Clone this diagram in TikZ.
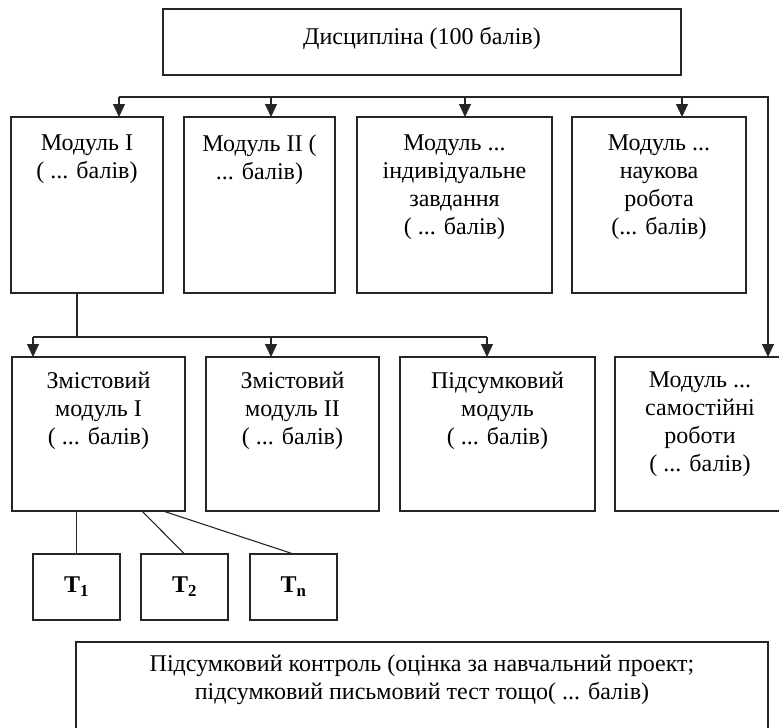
\documentclass[tikz,border=0pt]{standalone}
\usepackage{fontspec}
\setmainfont{Liberation Serif}
\usetikzlibrary{arrows.meta,positioning}

\begin{document}
\begin{tikzpicture}[
	    x=1pt, y=-1pt,
	    every node/.style={outer sep=0pt},
	    box/.style={rectangle, draw=black!85, line width=1.1pt, inner sep=0pt},
	    boxtext/.style={align=center, inner sep=0pt, font=\fontsize{24}{28}\selectfont},
	    modbox/.style={box, minimum height=176pt},
	    subbox/.style={box, minimum height=154pt},
	    testbox/.style={box, minimum width=87pt, minimum height=66pt, font=\fontsize{24}{28}\selectfont\bfseries},
	    normalline/.style={-{Triangle[length=13pt, width=12pt]}, line width=1.1pt, draw=black!85},
	    plainline/.style={line width=1.1pt, draw=black!85},
	]
	\useasboundingbox (0,0) rectangle (779,728);
	\clip (0,0) rectangle (779,728);

	\node[box, minimum width=518pt, minimum height=66pt] (disc) at (422,42) {};
	\node[boxtext, below=18pt of disc.north] (disctext) {Дисципліна (100 балів)};

	% ------------ modules

	\node[modbox, minimum width=152pt] (mod1) at (87,205) {};
	\node[modbox, minimum width=151pt, right=21pt of mod1] (mod2) {};
	\node[modbox, minimum width=195pt, right=22pt of mod2] (mod3) {};
	\node[modbox, minimum width=174pt, right=20pt of mod3] (mod4) {};

	\node[boxtext, below=18pt of mod1.north] (mod1text) {Модуль I\\( ... балів)};
	\node[boxtext, below=18pt of mod2.north] (mod2text) {Модуль II (\\... балів)};
	\node[boxtext, below=18pt of mod3.north] (mod3text) {Модуль ...\\індивідуальне\\завдання\\( ... балів)};
	\node[boxtext, below=18pt of mod4.north] (mod4text) {Модуль ...\\наукова\\робота\\(... балів)};

	% ------------ content modules

	\node[subbox, minimum width=173pt] (zm1) at (98.5,434) {};
	\node[subbox, minimum width=173pt, right=21pt of zm1] (zm2) {};
	\node[subbox, minimum width=195pt, right=21pt of zm2] (pidsm) {};
	\node[subbox, minimum width=170pt, right=20pt of pidsm] (samost) {};

	\node[boxtext, below=15pt of zm1.north] (zm1text) {Змістовий\\модуль I\\( ... балів)};
	\node[boxtext, below=15pt of zm2.north] (zm2text) {Змістовий\\модуль II\\( ... балів)};
	\node[boxtext, below=15pt of pidsm.north] (pidsmtext) {Підсумковий\\модуль\\( ... балів)};
	\node[boxtext, below=15pt of samost.north] (samosttext) {Модуль ...\\самостійні\\роботи\\( ... балів)};

	% ------------ tests

	\node[testbox] (t1) at (76.5,587) {\raisebox{4pt}{T\textsubscript{1}}};
	\node[testbox, right=21pt of t1] (t2) {\raisebox{4pt}{T\textsubscript{2}}};
	\node[testbox, right=22pt of t2] (tn) {\raisebox{4pt}{T\textsubscript{n}}};

	\node[box, minimum width=692pt, minimum height=108pt] (final) at (422,696) {};
	\node[boxtext, below=13pt of final.north] (finaltext) {Підсумковий контроль (оцінка за навчальний проект;\\підсумковий письмовий тест тощо( ... балів)};

	% ------------ connectors

	\coordinate (bus) at (0,97);
	\coordinate (bus2) at (0,337);
	\coordinate (mod1in) at ([xshift=32pt]mod1.north);
	\coordinate (mod2in) at ([xshift=11.5pt]mod2.north);
	\coordinate (mod3in) at ([xshift=10.5pt]mod3.north);
	\coordinate (mod4in) at ([xshift=23pt]mod4.north);
	\coordinate (samostin) at ([xshift=68pt]samost.north);
	\coordinate (mod1out) at ([xshift=-10pt]mod1.south);
	\coordinate (zm1in) at ([xshift=-65.5pt]zm1.north);
	\coordinate (zm2in) at ([xshift=-21.5pt]zm2.north);
	\coordinate (pidsmin) at ([xshift=-10.5pt]pidsm.north);

	\draw [normalline] (mod1in |- bus) -- (samostin |- bus) -- (samostin);
	\foreach \m in {mod1in, mod2in, mod3in, mod4in}
	    \draw [normalline] (\m |- bus) -- (\m);

	\draw [plainline] (mod1out) -- (mod1out |- bus2);
	\draw [plainline] (zm1in |- bus2) -- (pidsmin |- bus2);
	\foreach \m in {zm1in, zm2in, pidsmin}
	    \draw [normalline] (\m |- bus2) -- (\m);

	\draw [plainline] (t1.north |- zm1.south) -- (t1.north);
	\draw [plainline] ([xshift=43.5pt]zm1.south) -- (t2.north);
	\draw [plainline] ([xshift=64.5pt]zm1.south) -- (tn.north);

\end{tikzpicture}
\end{document}
